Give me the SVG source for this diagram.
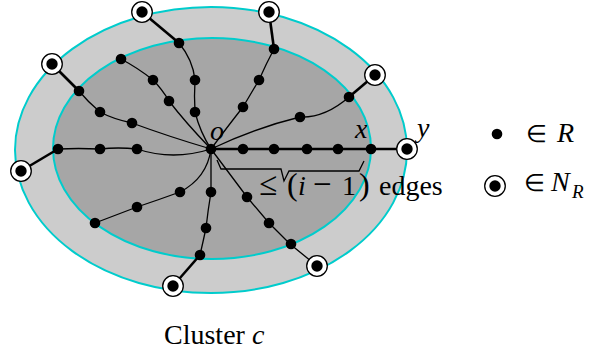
<svg xmlns="http://www.w3.org/2000/svg" width="590" height="352" viewBox="0 0 590 352">
<style>
.ring{stroke:#00cccc;stroke-width:2}
.e{fill:none;stroke:#000;stroke-width:1.3}
.t{fill:none;stroke:#000;stroke-width:2.6}
.r{fill:#000}
.nr{fill:#fff;stroke:#000;stroke-width:1.3}
.txt{font-family:"Liberation Serif",serif;font-size:28px;fill:#000}
.it{font-style:italic}
.sym{font-size:33px}
.el{font-size:24px}
.par{font-size:32px}
</style>
<defs>
<g id="R"><circle r="5.3" class="r"/></g>
<g id="NR"><circle r="10.3" class="nr"/><circle r="5.7" class="r"/></g>
</defs>
<g id="cluster">
<ellipse cx="211" cy="150" rx="196" ry="143" fill="#cccccc" class="ring"/>
<ellipse cx="212" cy="148.5" rx="159" ry="110.5" fill="#a6a6a6" class="ring"/>
</g>
<g id="connectors">
<path class="t" d="M211,149 L407,149"/>
<path class="e" d="M211,149 Q255,128 300,117 Q325,118 349,97"/>
<path class="t" d="M349,97 L375,75"/>
<path class="e" d="M211,149 Q228,126 243,107 L259,80 Q266,64 274,49"/>
<path class="t" d="M274,49 L269,12"/>
<path class="e" d="M211,149 Q200,132 195,112 Q194,96 195,80 Q193,60 179,43"/>
<path class="t" d="M179,43 L142,12"/>
<path class="e" d="M211,149 Q185,122 169,101 Q162,89 153,80 Q138,68 121,59"/>
<path class="e" d="M211,149 Q170,137 132,123 Q113,119 100,112 Q88,102 79,91"/>
<path class="t" d="M79,91 L52,64"/>
<path class="e" d="M211,149 Q173,161 137,149 Q118,147 100,149 Q78,148 58,149"/>
<path class="t" d="M58,149 L21,171"/>
<path class="e" d="M211,149 Q207,178 180,192 Q158,200 137,207 L95,223"/>
<path class="e" d="M211,149 L211,192 Q208,210 206,228 Q203,242 200,255"/>
<path class="t" d="M200,255 L173,286"/>
<path class="e" d="M211,149 L247,197 L269,223 L290,244 L317,266"/>
<path class="e" d="M217,160 L221,169 L281,169 L284,181 L289,171 L359,171 L364,161"/>
</g>
<g id="o"><use href="#R" x="211" y="149"/></g>
<g id="n1"><use href="#R" x="243" y="149"/></g>
<g id="n2"><use href="#R" x="274" y="149"/></g>
<g id="n3"><use href="#R" x="307" y="149"/></g>
<g id="n4"><use href="#R" x="338" y="149"/></g>
<g id="x"><use href="#R" x="371" y="149"/></g>
<g id="y"><use href="#NR" x="407" y="149"/></g>
<g id="n5"><use href="#R" x="300" y="117"/></g>
<g id="n6"><use href="#R" x="349" y="97"/></g>
<g id="n7"><use href="#NR" x="375" y="75"/></g>
<g id="n8"><use href="#R" x="243" y="107"/></g>
<g id="n9"><use href="#R" x="259" y="80"/></g>
<g id="n10"><use href="#R" x="274" y="49"/></g>
<g id="n11"><use href="#NR" x="269" y="12"/></g>
<g id="n12"><use href="#R" x="195" y="112"/></g>
<g id="n13"><use href="#R" x="195" y="80"/></g>
<g id="n14"><use href="#R" x="179" y="43"/></g>
<g id="n15"><use href="#NR" x="142" y="12"/></g>
<g id="n16"><use href="#R" x="169" y="101"/></g>
<g id="n17"><use href="#R" x="153" y="80"/></g>
<g id="n18"><use href="#R" x="121" y="59"/></g>
<g id="n19"><use href="#R" x="132" y="123"/></g>
<g id="n20"><use href="#R" x="100" y="112"/></g>
<g id="n21"><use href="#R" x="79" y="91"/></g>
<g id="n22"><use href="#NR" x="52" y="64"/></g>
<g id="n23"><use href="#R" x="137" y="149"/></g>
<g id="n24"><use href="#R" x="100" y="149"/></g>
<g id="n25"><use href="#R" x="58" y="149"/></g>
<g id="n26"><use href="#NR" x="21" y="171"/></g>
<g id="n27"><use href="#R" x="180" y="192"/></g>
<g id="n28"><use href="#R" x="137" y="207"/></g>
<g id="n29"><use href="#R" x="95" y="223"/></g>
<g id="n30"><use href="#R" x="211" y="192"/></g>
<g id="n31"><use href="#R" x="206" y="228"/></g>
<g id="n32"><use href="#R" x="200" y="255"/></g>
<g id="n33"><use href="#NR" x="173" y="286"/></g>
<g id="n34"><use href="#R" x="247" y="197"/></g>
<g id="n35"><use href="#R" x="269" y="223"/></g>
<g id="n36"><use href="#R" x="291" y="244"/></g>
<g id="n37"><use href="#NR" x="317" y="266"/></g>
<g id="labels">
<text class="txt it" x="210" y="140">o</text>
<text class="txt it" x="355" y="138">x</text>
<text class="txt it" x="417" y="137">y</text>
<text class="txt" y="195"><tspan class="sym" x="259">≤</tspan><tspan class="par" x="287">(</tspan><tspan class="it" x="298">i</tspan><tspan class="sym" x="313">−</tspan><tspan x="342">1</tspan><tspan class="par" x="359">)</tspan><tspan x="379">edges</tspan></text>
<text class="txt" x="164" y="344">Cluster <tspan class="it">c</tspan></text>
</g>
<g id="legend">
<use href="#R" x="497" y="134"/>
<use href="#NR" x="495" y="186"/>
<text class="txt" y="142"><tspan class="el" x="526">∈</tspan><tspan class="it" x="557">R</tspan></text>
<text class="txt" y="191"><tspan class="el" x="524">∈</tspan><tspan class="it" x="551">N</tspan><tspan class="it" x="572" y="198" font-size="19">R</tspan></text>
</g>
</svg>
